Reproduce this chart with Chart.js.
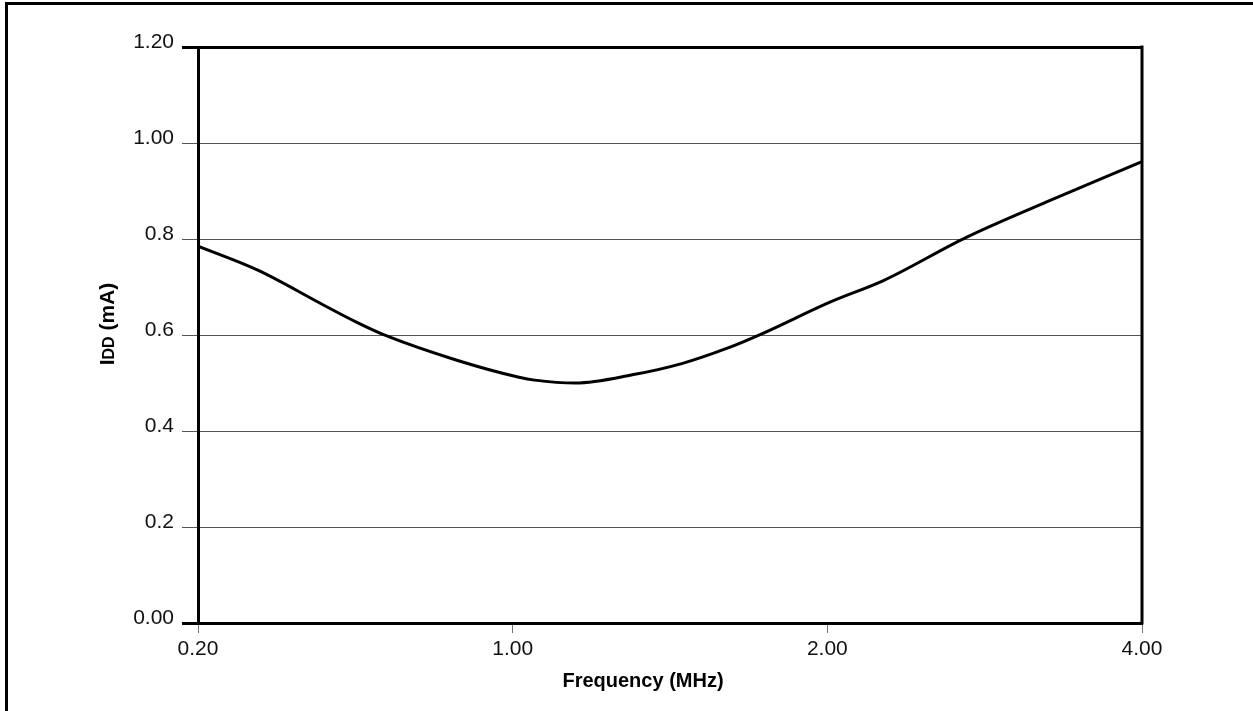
<!DOCTYPE html>
<html>
<head>
<meta charset="utf-8">
<script src="https://cdn.jsdelivr.net/npm/chart.js@4/dist/chart.umd.min.js"></script>
<style>
  body { margin: 0; background: #fff; }
  #wrap { position: relative; width: 1253px; height: 711px; overflow: hidden; }
  #frame { position: absolute; left: 5px; top: 2px; width: 1400px; height: 900px; border: 3px solid #000; }
  canvas { position: absolute; left: 0; top: 0; }
</style>
</head>
<body>
<div id="wrap">
  <div id="frame"></div>
  <canvas id="idd" width="1253" height="711"></canvas>
</div>
<script>
// x ticks are evenly spaced: 0.20, 1.00, 2.00, 4.00 MHz sit at axis positions 0..3
const freqLabels = ['0.20', '1.00', '2.00', '4.00'];
const yTickLabels = { '0': '0.00', '0.2': '0.2', '0.4': '0.4', '0.6': '0.6', '0.8': '0.8', '1': '1.00', '1.2': '1.20' };

// curve (x = position along the frequency axis)
const freqPos = [0, 0.19, 0.40, 0.50, 0.60, 0.82, 1.02, 1.07, 1.20, 1.38, 1.54, 1.68, 1.79, 2.01, 2.18, 2.44, 2.71, 3.0];
const iddValues = [0.785, 0.735, 0.662, 0.628, 0.598, 0.548, 0.512, 0.506, 0.500, 0.517, 0.541, 0.572, 0.602, 0.669, 0.714, 0.803, 0.881, 0.961];

const FONT = 'Liberation Sans, Arial, sans-serif';

const titles = {
  id: 'titles',
  afterDraw(chart) {
    const ctx = chart.ctx;
    const area = chart.chartArea;
    ctx.save();
    // right border of the plot
    ctx.strokeStyle = '#000';
    ctx.lineWidth = 3;
    ctx.beginPath();
    ctx.moveTo(area.right, area.top - 1.5);
    ctx.lineTo(area.right, area.bottom + 1.5);
    ctx.stroke();

    ctx.fillStyle = '#000';
    ctx.textBaseline = 'middle';
    ctx.textAlign = 'center';
    ctx.font = 'bold 20px ' + FONT;
    ctx.fillText('Frequency (MHz)', 643, 681);

    // y title: I + small DD + (mA)
    ctx.translate(107, 324);
    ctx.rotate(-Math.PI / 2);
    const parts = [['I', 21], ['DD', 16], [' (mA)', 21]];
    let total = 0;
    parts.forEach(p => { ctx.font = 'bold ' + p[1] + 'px ' + FONT; total += ctx.measureText(p[0]).width; });
    let x = -total / 2;
    ctx.textAlign = 'left';
    ctx.textBaseline = 'alphabetic';
    parts.forEach(p => {
      ctx.font = 'bold ' + p[1] + 'px ' + FONT;
      ctx.fillText(p[0], x, 7);
      x += ctx.measureText(p[0]).width;
    });
    ctx.restore();
  }
};

new Chart(document.getElementById('idd'), {
  type: 'line',
  data: {
    datasets: [{
      data: freqPos.map((p, i) => ({ x: p, y: iddValues[i] })),
      borderColor: '#000',
      borderWidth: 3,
      pointRadius: 0,
      cubicInterpolationMode: 'monotone',
      fill: false
    }]
  },
  options: {
    responsive: false,
    animation: false,
    layout: { padding: { left: 0, top: 47, right: 111, bottom: 0 } },
    plugins: { legend: { display: false }, tooltip: { enabled: false } },
    scales: {
      x: {
        type: 'linear',
        min: 0,
        max: 3,
        afterFit: s => { s.height = 88; },
        border: { display: true, color: '#000', width: 3 },
        grid: { drawOnChartArea: false, drawTicks: true, tickLength: 10, tickColor: '#777', tickWidth: 1 },
        ticks: {
          stepSize: 1,
          padding: 4,
          color: '#111',
          font: { family: FONT, size: 21 },
          maxRotation: 0,
          callback: v => freqLabels[v]
        }
      },
      y: {
        min: 0,
        max: 1.2,
        afterFit: s => { s.width = 198; },
        border: { display: true, color: '#000', width: 3 },
        grid: {
          color: c => c.tick.value >= 1.19 ? '#000' : '#555',
          lineWidth: c => c.tick.value >= 1.19 ? 3 : 1,
          tickColor: c => (c.tick.value >= 1.19 || c.tick.value === 0) ? '#000' : '#555',
          tickWidth: c => (c.tick.value >= 1.19 || c.tick.value === 0) ? 3 : 1,
          tickLength: 16
        },
        ticks: {
          stepSize: 0.2,
          padding: 8,
          labelOffset: -5,
          color: '#111',
          font: { family: FONT, size: 21 },
          callback: v => yTickLabels[String(Math.round(v * 10) / 10)]
        }
      }
    }
  },
  plugins: [titles]
});
</script>
</body>
</html>
